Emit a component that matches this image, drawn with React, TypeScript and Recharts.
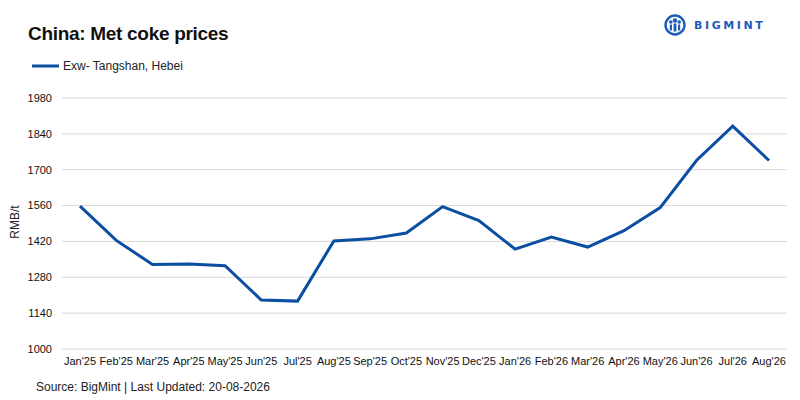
import React from "react";
import { LineChart, Line, XAxis, YAxis, CartesianGrid } from "recharts";

const months = [
  "Jan'25", "Feb'25", "Mar'25", "Apr'25", "May'25", "Jun'25", "Jul'25", "Aug'25", "Sep'25", "Oct'25",
  "Nov'25", "Dec'25", "Jan'26", "Feb'26", "Mar'26", "Apr'26", "May'26", "Jun'26", "Jul'26", "Aug'26",
];
const prices = [
  1558, 1424, 1330, 1332, 1325, 1191, 1187, 1422, 1430, 1453,
  1556, 1501, 1390, 1437, 1398, 1462, 1552, 1736, 1870, 1736,
];
const yTicks = [1000, 1140, 1280, 1420, 1560, 1700, 1840, 1980];
const seriesName = "Exw- Tangshan, Hebei";

const data = months.map((m, i) => ({ month: m, price: prices[i] }));

const FONT = "'Liberation Sans', Arial, sans-serif";
const BLUE = "#0b4ea2";

const LegendBox = () => (
  <div
    style={{
      position: "absolute",
      left: 32,
      top: 59,
      display: "flex",
      alignItems: "center",
      fontFamily: FONT,
      fontSize: 12,
      color: "#222",
      whiteSpace: "nowrap",
    }}
  >
    <svg width={28} height={6} style={{ marginRight: 3 }}>
      <line x1={0} y1={3} x2={27} y2={3} stroke={BLUE} strokeWidth={3} />
    </svg>
    <span>{seriesName}</span>
  </div>
);

const Logo = () => (
  <div style={{ position: "absolute", left: 664, top: 14, display: "flex", alignItems: "center" }}>
    <svg width={22} height={22} viewBox="0 0 22 22">
      <circle cx={11} cy={11} r={9.5} fill="none" stroke="#1d5cb8" strokeWidth={2.4} />
      <circle cx={11} cy={6.5} r={2.2} fill="#1d5cb8" />
      <circle cx={6.8} cy={8} r={1.8} fill="#1d5cb8" />
      <circle cx={15.2} cy={8} r={1.8} fill="#1d5cb8" />
      <rect x={9.6} y={9.5} width={2.8} height={8} fill="#1d5cb8" />
      <rect x={5.8} y={10.5} width={2.2} height={6} fill="#1d5cb8" />
      <rect x={14} y={10.5} width={2.2} height={6} fill="#1d5cb8" />
    </svg>
    <span
      style={{
        marginLeft: 8,
        fontFamily: "'DejaVu Sans', Verdana, sans-serif",
        fontWeight: 700,
        fontSize: 11,
        letterSpacing: 2.6,
        color: "#1d5cb8",
      }}
    >
      BIGMINT
    </span>
  </div>
);

export default function App() {
  return (
    <div style={{ position: "fixed", left: 0, top: 0, width: 800, height: 400, background: "#fff", fontFamily: FONT }}>
      <LineChart
        width={800}
        height={400}
        data={data}
        margin={{ top: 98, right: 13, bottom: 21, left: 0 }}
        style={{ position: "absolute", left: 0, top: 0 }}
      >
        <CartesianGrid vertical={false} stroke="#d9d9d9" strokeWidth={1} />
        <XAxis
          dataKey="month"
          interval={0}
          axisLine={false}
          tickLine={false}
          padding={{ left: 18, right: 18 }}
          tick={{ fontSize: 11, fill: "#111", fontFamily: FONT }}
        />
        <YAxis
          domain={[1000, 1980]}
          ticks={yTicks}
          width={62}
          axisLine={false}
          tickLine={false}
          tickMargin={4}
          tick={{ fontSize: 11, fill: "#111", fontFamily: FONT }}
        />
        <Line
          type="linear"
          dataKey="price"
          name={seriesName}
          stroke={BLUE}
          strokeWidth={3}
          dot={false}
          activeDot={false}
          isAnimationActive={false}
        />
      </LineChart>
      <div
        style={{
          position: "absolute",
          left: 28,
          top: 23,
          fontSize: 19,
          fontWeight: 700,
          letterSpacing: -0.3,
          color: "#111",
          fontFamily: FONT,
          whiteSpace: "nowrap",
        }}
      >
        China: Met coke prices
      </div>
      <Logo />
      <LegendBox />
      <div
        style={{
          position: "absolute",
          left: 15,
          top: 222,
          transform: "translate(-50%, -50%) rotate(-90deg)",
          fontSize: 12,
          color: "#222",
          fontFamily: FONT,
          whiteSpace: "nowrap",
        }}
      >
        RMB/t
      </div>
      <div
        style={{
          position: "absolute",
          left: 36,
          top: 380,
          fontSize: 12,
          color: "#222",
          fontFamily: FONT,
          whiteSpace: "nowrap",
        }}
      >
        Source: BigMint | Last Updated: 20-08-2026
      </div>
    </div>
  );
}
